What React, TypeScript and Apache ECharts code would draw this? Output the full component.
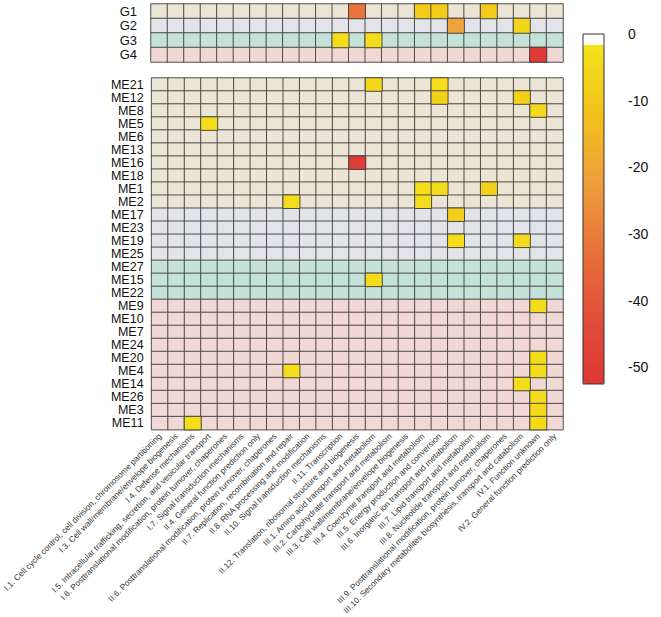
import React, { useEffect, useRef } from "react";
import * as echarts from "echarts";

const columns = [
  "I.1. Cell cycle control, cell division, chromosome partitioning",
  "I.3. Cell wall/membrane/envelope biogenesis",
  "I.4. Defense mechanisms",
  "I.5. Intracellular trafficking, secretion, and vesicular transport",
  "I.6. Posttranslational modification, protein turnover, chaperones",
  "I.7. Signal transduction mechanisms",
  "II.4. General function prediction only",
  "II.6. Posttranslational modification, protein turnover, chaperones",
  "II.7. Replication, recombination and repair",
  "II.8. RNA processing and modification",
  "II.10. Signal transduction mechanisms",
  "II.11. Transcription",
  "II.12. Translation, ribosomal structure and biogenesis",
  "III.1. Amino acid transport and metabolism",
  "III.2. Carbohydrate transport and metabolism",
  "III.3. Cell wall/membrane/envelope biogenesis",
  "III.4. Coenzyme transport and metabolism",
  "III.5. Energy production and conversion",
  "III.6. Inorganic ion transport and metabolism",
  "III.7. Lipid transport and metabolism",
  "III.8. Nucleotide transport and metabolism",
  "III.9. Posttranslational modification, protein turnover, chaperones",
  "III.10. Secondary metabolites biosynthesis, transport and catabolism",
  "IV.1. Function unknown",
  "IV.2. General function prediction only",
];

const groups = ["G1", "G2", "G3", "G4"];
const groupColors = ["#ECE4D4", "#E3E4EA", "#C4E2D8", "#F2D8D5"];

const modules = [
  "ME21", "ME12", "ME8", "ME5", "ME6", "ME13", "ME16", "ME18", "ME1", "ME2",
  "ME17", "ME23", "ME19", "ME25",
  "ME27", "ME15", "ME22",
  "ME9", "ME10", "ME7", "ME24", "ME20", "ME4", "ME14", "ME26", "ME3", "ME11",
];
const moduleGroup = [
  "G1", "G1", "G1", "G1", "G1", "G1", "G1", "G1", "G1", "G1",
  "G2", "G2", "G2", "G2",
  "G3", "G3", "G3",
  "G4", "G4", "G4", "G4", "G4", "G4", "G4", "G4", "G4", "G4",
];

// [row, column index, value]
const groupCells: [string, number, number][] = [
  ["G1", 12, -32], ["G1", 16, -9], ["G1", 17, -9], ["G1", 20, -9],
  ["G2", 18, -21], ["G2", 22, -6],
  ["G3", 11, -4], ["G3", 13, -4],
  ["G4", 23, -51],
];
const moduleCells: [string, number, number][] = [
  ["ME21", 13, -5], ["ME21", 17, -3],
  ["ME12", 17, -7], ["ME12", 22, -7],
  ["ME8", 23, -5],
  ["ME5", 3, -3],
  ["ME16", 12, -50],
  ["ME1", 16, -3], ["ME1", 17, -4], ["ME1", 20, -7],
  ["ME2", 8, -3], ["ME2", 16, -3],
  ["ME17", 18, -8],
  ["ME19", 18, -3], ["ME19", 22, -4],
  ["ME15", 13, -4],
  ["ME9", 23, -4],
  ["ME20", 23, -4],
  ["ME4", 8, -3], ["ME4", 23, -4],
  ["ME14", 22, -3],
  ["ME26", 23, -4],
  ["ME3", 23, -5],
  ["ME11", 2, -3], ["ME11", 23, -5],
];

const scaleMin = -52.5;
const scaleWhiteEnd = -1.6;
const scaleTicks = [0, -10, -20, -30, -40, -50];
const scaleColors = ["#DD3636", "#E14F39", "#E8733A", "#EDA03C", "#F2C21A", "#F4E31C"];

const FONT = "Liberation Sans, Arial, Helvetica, sans-serif";

export default function App() {
  const ref = useRef<HTMLDivElement>(null);
  useEffect(() => {
    if (!ref.current) return;
    const chart = echarts.init(ref.current, undefined, { renderer: "svg" });
    const cellBorder = { borderColor: "#3f3f3f", borderWidth: 0.9 };

    const topBg: any[] = [];
    groups.forEach((g, gi) => {
      columns.forEach((_, c) => topBg.push([c, gi, 0, gi]));
    });
    const botBg: any[] = [];
    modules.forEach((m, r) => {
      const gi = groups.indexOf(moduleGroup[r]);
      columns.forEach((_, c) => botBg.push([c, r, 0, gi]));
    });

    const series: any[] = [
      { type: "heatmap", xAxisIndex: 0, yAxisIndex: 0, data: topBg, itemStyle: cellBorder, z: 2 },
      { type: "heatmap", xAxisIndex: 1, yAxisIndex: 1, data: botBg, itemStyle: cellBorder, z: 2 },
      {
        type: "heatmap", xAxisIndex: 0, yAxisIndex: 0, z: 3,
        data: groupCells.map(([g, c, v]) => [c, groups.indexOf(g), v]),
        itemStyle: cellBorder,
      },
      {
        type: "heatmap", xAxisIndex: 1, yAxisIndex: 1, z: 3,
        data: moduleCells.map(([m, c, v]) => [c, modules.indexOf(m), v]),
        itemStyle: cellBorder,
      },
      { type: "line", xAxisIndex: 2, yAxisIndex: 2, data: [] },
    ];

    const barLeft = 583, barTop = 34, barW = 21, barH = 350;
    const whiteH = (-scaleWhiteEnd / -scaleMin) * barH;

    chart.setOption({
      animation: false,
      textStyle: { fontFamily: FONT },
      grid: [
        { left: 151, top: 4, width: 412, height: 58 },
        { left: 151, top: 78, width: 412, height: 353 },
        { left: barLeft, top: barTop, width: barW, height: barH },
      ],
      xAxis: [
        { type: "category", gridIndex: 0, data: columns, show: false },
        {
          type: "category", gridIndex: 1, data: columns,
          axisLine: { show: false }, axisTick: { show: false },
          axisLabel: { interval: 0, rotate: 45, fontSize: 8.3, color: "#333", margin: 5, fontFamily: FONT },
        },
        { type: "value", gridIndex: 2, show: false, min: 0, max: 1 },
      ],
      yAxis: [
        {
          type: "category", gridIndex: 0, data: groups, inverse: true,
          axisLine: { show: false }, axisTick: { show: false },
          axisLabel: { interval: 0, fontSize: 13, color: "#111", margin: 14, fontFamily: FONT },
        },
        {
          type: "category", gridIndex: 1, data: modules, inverse: true,
          axisLine: { show: false }, axisTick: { show: false },
          axisLabel: { interval: 0, fontSize: 12.5, color: "#111", margin: 8, fontFamily: FONT },
        },
        {
          type: "value", gridIndex: 2, min: scaleMin, max: 0, position: "right",
          splitLine: { show: false },
          axisLine: { show: false },
          axisTick: { show: true, customValues: scaleTicks, length: 12, lineStyle: { color: "#333", width: 1 } },
          axisLabel: { customValues: scaleTicks, fontSize: 14, color: "#111", margin: 24, fontFamily: FONT },
        },
      ],
      visualMap: [
        {
          type: "piecewise",
          show: false,
          seriesIndex: [0, 1],
          dimension: 3,
          pieces: groups.map((g, gi) => ({ value: gi, color: groupColors[gi] })),
        },
        {
          type: "continuous",
          seriesIndex: [2, 3],
          dimension: 2,
          min: scaleMin, max: scaleWhiteEnd,
          calculable: false,
          left: barLeft, top: barTop + whiteH,
          itemWidth: barW, itemHeight: barH - whiteH,
          padding: 0,
          inRange: { color: scaleColors },
        },
      ],
      graphic: [
        { type: "rect", shape: { x: barLeft, y: barTop, width: barW, height: whiteH }, style: { fill: "#fff" }, z: 10 },
        { type: "rect", shape: { x: barLeft, y: barTop, width: barW, height: barH }, style: { fill: "none", stroke: "#333", lineWidth: 1 }, z: 11 },
      ],
      series,
    });
    return () => chart.dispose();
  }, []);
  return (
    <div
      ref={ref}
      style={{ position: "fixed", left: 0, top: 0, width: 661, height: 617, background: "#fff" }}
    />
  );
}
